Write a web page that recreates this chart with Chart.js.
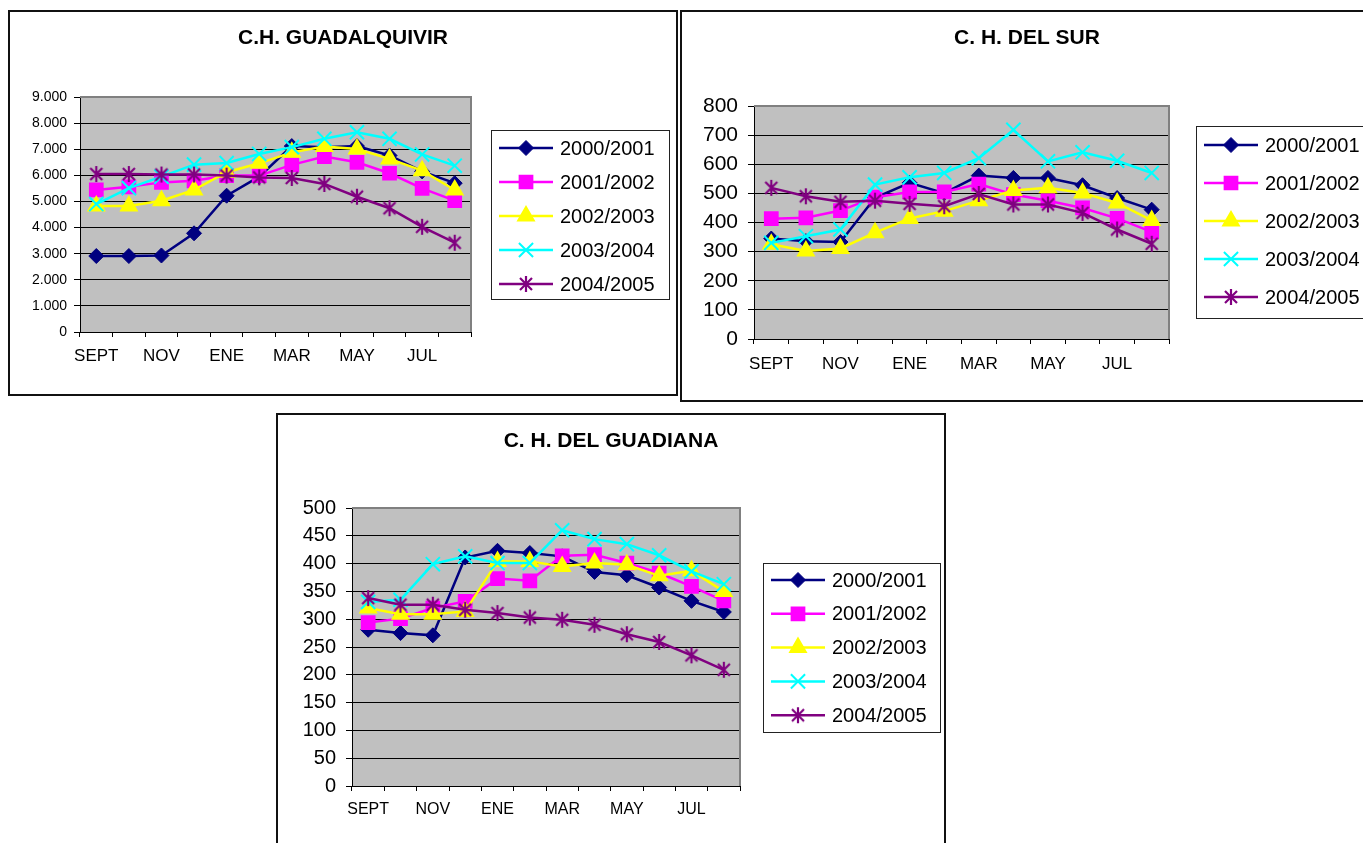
<!DOCTYPE html>
<html>
<head>
<meta charset="utf-8">
<script src="https://cdn.jsdelivr.net/npm/chart.js@4.4.1/dist/chart.umd.min.js"></script>
<style>
  body { margin: 0; background: #fff; width: 1363px; height: 843px; overflow: hidden; position: relative; }
  .panel { position: absolute; border: 2px solid #111; box-sizing: border-box; background: #fff; }
  .panel canvas { display: block; }
</style>
</head>
<body>
<div class="panel" style="left:8px;top:10px;width:670px;height:386px"><canvas id="c1" width="666" height="382"></canvas></div>
<div class="panel" style="left:680px;top:10px;width:694px;height:392px"><canvas id="c2" width="690" height="388"></canvas></div>
<div class="panel" style="left:276px;top:413px;width:670px;height:440px"><canvas id="c3" width="666" height="428"></canvas></div>
<script>
// months (Excel only prints every other one)
const months = ["SEPT", "OCT", "NOV", "DIC", "ENE", "FEB", "MAR", "ABR", "MAY", "JUN", "JUL", "AGO"];
const seasons = ["2000/2001", "2001/2002", "2002/2003", "2003/2004", "2004/2005"];

// C.H. GUADALQUIVIR
const guadalquivir2000 = [2910, 2910, 2930, 3780, 5220, 5950, 7120, 7080, 7120, 6760, 6150, 5700];
const guadalquivir2001 = [5440, 5560, 5730, 5790, 5990, 5990, 6400, 6720, 6500, 6080, 5500, 5030];
const guadalquivir2002 = [4830, 4830, 5030, 5440, 6120, 6460, 6880, 7100, 7010, 6630, 6180, 5440];
const guadalquivir2003 = [4900, 5510, 5950, 6410, 6470, 6820, 7080, 7400, 7650, 7400, 6800, 6370];
const guadalquivir2004 = [6050, 6050, 6030, 6030, 5990, 5920, 5900, 5670, 5180, 4740, 4030, 3420];

// C. H. DEL SUR
const sur2000 = [345, 336, 333, 485, 536, 501, 561, 553, 553, 528, 484, 444];
const sur2001 = [413, 416, 441, 487, 505, 505, 532, 496, 475, 450, 414, 368];
const sur2002 = [325, 302, 311, 365, 414, 439, 475, 510, 519, 501, 467, 407];
const sur2003 = [330, 353, 376, 530, 555, 570, 621, 718, 610, 641, 612, 570];
const sur2004 = [519, 490, 471, 475, 464, 456, 498, 462, 462, 433, 376, 327];

// C. H. DEL GUADIANA
const guadiana2000 = [281, 275, 271, 411, 423, 419, 413, 385, 379, 357, 333, 313];
const guadiana2001 = [294, 301, 320, 332, 373, 369, 414, 416, 401, 383, 359, 333];
const guadiana2002 = [320, 309, 309, 314, 404, 404, 395, 401, 398, 378, 387, 350];
const guadiana2003 = [331, 335, 399, 413, 401, 401, 460, 444, 435, 415, 386, 363];
const guadiana2004 = [338, 326, 326, 317, 311, 303, 299, 290, 273, 259, 235, 209];

const FONT = '"Liberation Sans", Arial, sans-serif';
Chart.defaults.font.family = FONT;
Chart.defaults.color = "#000";

// asterisk marker like excel's (vertical bar + X)
function makeAsterisk(color) {
  const c = document.createElement("canvas");
  c.width = 18; c.height = 18;
  const g = c.getContext("2d");
  g.strokeStyle = color;
  g.lineWidth = 2.2;
  g.beginPath();
  g.moveTo(9, 1); g.lineTo(9, 17);
  g.moveTo(3, 3); g.lineTo(15, 15);
  g.moveTo(15, 3); g.lineTo(3, 15);
  g.stroke();
  return c;
}

const seriesColors = ["#000080", "#FF00FF", "#FFFF00", "#00FFFF", "#800080"];
const seriesMarkers = ["rectRot", "rect", "triangle", "crossRot", makeAsterisk("#800080")];
const markerRadius = [7.5, 9, 9, 10, 9];

function dotThousands(v) {
  return String(v).replace(/\B(?=(\d{3})+(?!\d))/g, ".");
}

// gray plot area with grey frame on top/right
const plotArea = {
  id: "plotArea",
  beforeDraw(chart) {
    const { ctx, chartArea: a } = chart;
    ctx.save();
    ctx.fillStyle = "#C0C0C0";
    ctx.fillRect(a.left, a.top, a.right - a.left, a.bottom - a.top);
    ctx.restore();
  },
  beforeDatasetsDraw(chart) {
    const { ctx, chartArea: a } = chart;
    ctx.save();
    ctx.strokeStyle = "#808080";
    ctx.lineWidth = 2;
    ctx.beginPath();
    ctx.moveTo(a.left, a.top);
    ctx.lineTo(a.right, a.top);
    ctx.lineTo(a.right, a.bottom);
    ctx.stroke();
    ctx.restore();
  }
};

// title + boxed legend, drawn like the excel ones
const excelDecor = {
  id: "excelDecor",
  afterDraw(chart, args, opts) {
    const ctx = chart.ctx;
    ctx.save();
    ctx.fillStyle = "#000";
    ctx.font = "bold " + opts.titleSize + "px " + FONT;
    ctx.textAlign = "center";
    ctx.textBaseline = "middle";
    ctx.fillText(opts.title, chart.width / 2, opts.titleY);

    const lx = chart.chartArea.right + opts.legendGap;
    const ly = opts.legendTop;
    ctx.strokeStyle = "#222";
    ctx.lineWidth = 1;
    ctx.strokeRect(lx + 0.5, ly + 0.5, opts.legendW, opts.legendH);

    ctx.font = opts.legendSize + "px " + FONT;
    ctx.textAlign = "left";
    chart.data.datasets.forEach((ds, i) => {
      const y = ly + opts.legendFirst + i * opts.legendStep;
      ctx.strokeStyle = ds.borderColor;
      ctx.lineWidth = 2.5;
      ctx.beginPath();
      ctx.moveTo(lx + 8, y);
      ctx.lineTo(lx + 62, y);
      ctx.stroke();
      ctx.fillStyle = ds.pointBackgroundColor;
      ctx.strokeStyle = ds.pointBorderColor;
      ctx.lineWidth = ds.pointBorderWidth;
      Chart.helpers.drawPoint(ctx, {
        pointStyle: ds.pointStyle, rotation: 0,
        radius: ds.pointRadius, borderWidth: ds.pointBorderWidth
      }, lx + 35, y);
      ctx.fillStyle = "#000";
      ctx.fillText(ds.label, lx + 69, y + 1);
    });
    ctx.restore();
  }
};

function makeChart(canvasId, title, series, yMax, yStep, look) {
  const datasets = series.map((values, i) => ({
    label: seasons[i],
    data: values,
    borderColor: seriesColors[i],
    backgroundColor: seriesColors[i],
    pointBackgroundColor: seriesColors[i],
    pointBorderColor: seriesColors[i],
    pointBorderWidth: i === 0 ? 1 : 2,
    pointStyle: seriesMarkers[i],
    pointRadius: markerRadius[i],
    borderWidth: 2.5,
    tension: 0,
    order: series.length - i   // later seasons on top, like excel
  }));

  return new Chart(document.getElementById(canvasId), {
    type: "line",
    data: { labels: months, datasets },
    options: {
      responsive: false,
      animation: false,
      events: [],
      layout: { padding: look.padding },
      plugins: {
        legend: { display: false },
        tooltip: { enabled: false },
        excelDecor: look.decor
      },
      scales: {
        x: {
          offset: true,
          grid: { offset: true, drawOnChartArea: false, drawTicks: true, tickLength: 5, color: "#000" },
          border: { display: true, color: "#000", width: 1 },
          ticks: {
            autoSkip: false, maxRotation: 0, padding: look.xPad,
            font: { size: look.xFont },
            callback: function (val, i) { return i % 2 === 0 ? this.getLabelForValue(val) : ""; }
          },
          afterFit(scale) {
            scale.height = 40;
            scale.paddingLeft = 0;
            scale.paddingRight = 0;
          }
        },
        y: {
          min: 0, max: yMax,
          grid: {
            color: (c) => (c.tick && c.tick.value === yMax ? "#808080" : "#000"),
            tickColor: "#000", tickLength: 6
          },
          border: { display: true, color: "#000", width: 1 },
          ticks: {
            stepSize: yStep, padding: look.yPad,
            font: { size: look.yFont },
            callback: look.yFormat
          },
          afterFit(scale) {
            scale.width = look.yWidth;
            scale.paddingTop = 0;
            scale.paddingBottom = 0;
          }
        }
      }
    },
    plugins: [plotArea, excelDecor]
  });
}

makeChart("c1", "C.H. GUADALQUIVIR",
  [guadalquivir2000, guadalquivir2001, guadalquivir2002, guadalquivir2003, guadalquivir2004],
  9000, 1000, {
    padding: { left: 20, right: 205, top: 85, bottom: 22 },
    yWidth: 50, yFont: 14, yPad: 7, xFont: 17, xPad: 9,
    yFormat: (v) => dotThousands(v),
    decor: { title: "C.H. GUADALQUIVIR", titleSize: 21, titleY: 26,
      legendGap: 20, legendTop: 118, legendW: 178, legendH: 169,
      legendFirst: 18, legendStep: 34, legendSize: 20 }
  });

makeChart("c2", "C. H. DEL SUR",
  [sur2000, sur2001, sur2002, sur2003, sur2004],
  800, 100, {
    padding: { left: 17, right: 203, top: 94, bottom: 21 },
    yWidth: 55, yFont: 21, yPad: 10, xFont: 17, xPad: 10,
    yFormat: (v) => v,
    decor: { title: "C. H. DEL SUR", titleSize: 21, titleY: 26,
      legendGap: 27, legendTop: 114, legendW: 182, legendH: 192,
      legendFirst: 19, legendStep: 38, legendSize: 20 }
  });

makeChart("c3", "C. H. DEL GUADIANA",
  [guadiana2000, guadiana2001, guadiana2002, guadiana2003, guadiana2004],
  500, 50, {
    padding: { left: 19, right: 204, top: 93, bottom: 17 },
    yWidth: 55, yFont: 20, yPad: 10, xFont: 16, xPad: 9,
    yFormat: (v) => v,
    decor: { title: "C. H. DEL GUADIANA", titleSize: 21, titleY: 26,
      legendGap: 23, legendTop: 148, legendW: 177, legendH: 169,
      legendFirst: 17, legendStep: 33.8, legendSize: 20 }
  });
</script>
</body>
</html>
